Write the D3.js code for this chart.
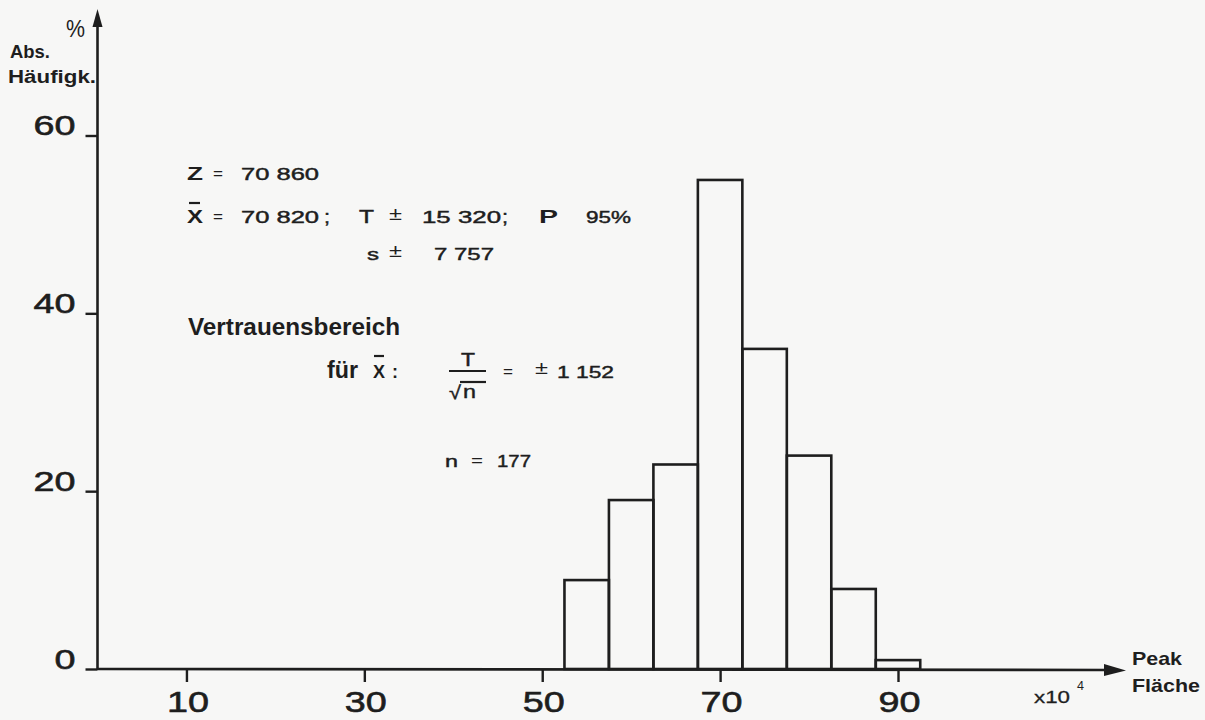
<!DOCTYPE html>
<html>
<head>
<meta charset="utf-8">
<script src="https://cdn.jsdelivr.net/npm/d3@7"></script>
<style>
  html, body { margin: 0; padding: 0; background: #f7f7f6; }
  svg { display: block; }
  text { font-family: "Liberation Sans", Arial, Helvetica, sans-serif; fill: #1e1e1e; }
</style>
</head>
<body>
<svg id="chart" width="1205" height="720"></svg>
<script>
// ---- data ----
const binEdges = [52.5, 57.5, 62.5, 67.5, 72.5, 77.5, 82.5, 87.5, 92.5];
const counts   = [10, 19, 23, 55, 36, 24, 9, 1];
const yTicks   = [0, 20, 40, 60];
const xTicks   = [10, 30, 50, 70, 90];
const yAxisTitle = ["%", "Abs.", "Häufigk."];
const xAxisTitle = ["Peak", "Fläche"];
const xUnit = ["x10", "4"];

const ink = "#1e1e1e";
const svg = d3.select("#chart");
svg.append("rect").attr("width", 1205).attr("height", 720).attr("fill", "#f7f7f6");

const x = d3.scaleLinear().domain([0, 90]).range([97.5, 898]);
const y = d3.scaleLinear().domain([0, 60]).range([669, 135.5]);

const bins = counts.map((c, i) => ({ x0: binEdges[i], x1: binEdges[i + 1], c }));

// bars
svg.append("g").selectAll("rect").data(bins).join("rect")
  .attr("x", d => x(d.x0))
  .attr("y", d => y(d.c))
  .attr("width", d => x(d.x1) - x(d.x0))
  .attr("height", d => y(0) - y(d.c))
  .attr("fill", "none")
  .attr("stroke", ink)
  .attr("stroke-width", 2.6);

// y axis
const gy = svg.append("g").attr("transform", `translate(${x(0)},0)`)
  .call(d3.axisLeft(y).tickValues(yTicks).tickSize(12).tickFormat(d3.format("d")));
gy.select(".domain").remove();
gy.selectAll(".tick line").attr("stroke", ink).attr("stroke-width", 2.4);
gy.selectAll(".tick text")
  .attr("x", -22).attr("y", -1).attr("dy", 0)
  .attr("font-size", 28).attr("fill", ink)
  .attr("stroke", ink).attr("stroke-width", 0.6)
  .attr("textLength", d => String(d).length * 21)
  .attr("lengthAdjust", "spacingAndGlyphs");

// x axis
const gx = svg.append("g").attr("transform", `translate(0,${y(0)})`)
  .call(d3.axisBottom(x).tickValues(xTicks).tickSize(13).tickFormat(d3.format("d")));
gx.select(".domain").remove();
gx.selectAll(".tick line").attr("stroke", ink).attr("stroke-width", 2.4);
gx.selectAll(".tick text")
  .attr("y", 43).attr("dy", 0).attr("x", 1)
  .attr("font-size", 30).attr("fill", ink)
  .attr("stroke", ink).attr("stroke-width", 0.6)
  .attr("textLength", 42)
  .attr("lengthAdjust", "spacingAndGlyphs");

// axis lines with arrows
svg.append("line").attr("x1", x(0)).attr("y1", y(0) + 1).attr("x2", x(0)).attr("y2", 22)
  .attr("stroke", ink).attr("stroke-width", 2.6);
svg.append("path").attr("d", `M${x(0)},9 L${x(0) - 5},27 L${x(0) + 5},27 Z`).attr("fill", ink);
svg.append("line").attr("x1", x(0)).attr("y1", y(0)).attr("x2", 1110).attr("y2", y(0) + 1)
  .attr("stroke", ink).attr("stroke-width", 2.6);
svg.append("path").attr("d", `M1126,${y(0) + 1.5} L1104,${y(0) - 5} L1104,${y(0) + 7} Z`).attr("fill", ink);

// helper for text
function t(str, xx, yy, size, opts = {}) {
  const el = svg.append("text")
    .attr("x", xx).attr("y", yy)
    .attr("font-size", size)
    .attr("font-weight", opts.bold ? "bold" : "normal")
    .attr("text-anchor", opts.anchor || "start")
    .text(str);
  if (opts.len) el.attr("textLength", opts.len).attr("lengthAdjust", "spacingAndGlyphs");
  if (opts.stroke) el.attr("stroke", ink).attr("stroke-width", opts.stroke);
  return el;
}
function bar(x1, x2, yy) {
  svg.append("line").attr("x1", x1).attr("x2", x2).attr("y1", yy).attr("y2", yy)
    .attr("stroke", ink).attr("stroke-width", 2.2);
}

// axis titles
t(yAxisTitle[0], 66, 37, 23, { len: 19 });
t(yAxisTitle[1], 10, 58, 18, { bold: true, len: 40 });
t(yAxisTitle[2], 8, 83, 18, { bold: true, len: 88 });
t(xAxisTitle[0], 1132, 665, 19, { bold: true, len: 50 });
t(xAxisTitle[1], 1132, 692, 19, { bold: true, len: 68 });
t(xUnit[0], 1034, 703, 17, { len: 36, stroke: 0.3 });
t(xUnit[1], 1077, 690, 12, { len: 7 });

// annotation block 1
const N = { stroke: 0.45 };
t("Z", 187, 180, 18, { bold: true, len: 16 });
t("=", 213, 179, 15, { len: 10 });
t("70 860", 241, 180, 17, { ...N, len: 78 });

t("X", 187, 223, 18, { bold: true, len: 16 });
bar(189, 200, 203);
t("=", 213, 222, 15, { len: 10 });
t("70 820", 241, 223, 17, { ...N, len: 78 });
t(";", 324, 223, 18, { ...N, len: 6 });
t("T", 359, 223, 18, { ...N, len: 15 });
t("±", 389, 220, 19, { len: 13 });
t("15 320", 422, 223, 17, { ...N, len: 79 });
t(";", 502, 223, 18, { ...N, len: 6 });
t("P", 539, 223, 18, { bold: true, len: 19 });
t("95%", 586, 223, 17, { ...N, len: 45 });

t("s", 367, 260, 17, { ...N, len: 12 });
t("±", 389, 257, 19, { len: 13 });
t("7 757", 434, 260, 17, { ...N, len: 60 });

// annotation block 2
t("Vertrauensbereich", 188, 335, 23, { bold: true, len: 212 });
t("für", 327, 378, 23, { bold: true, len: 31 });
t("X", 373, 378, 18, { bold: true, len: 12 });
bar(374, 384, 356);
t(":", 392, 378, 18, { bold: true, len: 6 });
t("T", 468, 366, 19, { ...N, anchor: "middle", len: 14 });
bar(449, 486, 371);
t("√", 449, 399, 19, { ...N, len: 12 });
t("n", 463, 398, 19, { ...N, len: 13 });
bar(460, 486, 382);
t("=", 503, 377, 15, { len: 10 });
t("±", 535, 374, 19, { len: 13 });
t("1 152", 557, 378, 17, { ...N, len: 57 });

t("n", 445, 467, 17, { ...N, len: 13 });
t("=", 471, 466, 15, { len: 12 });
t("177", 497, 467, 17, { ...N, len: 34 });
</script>
</body>
</html>
